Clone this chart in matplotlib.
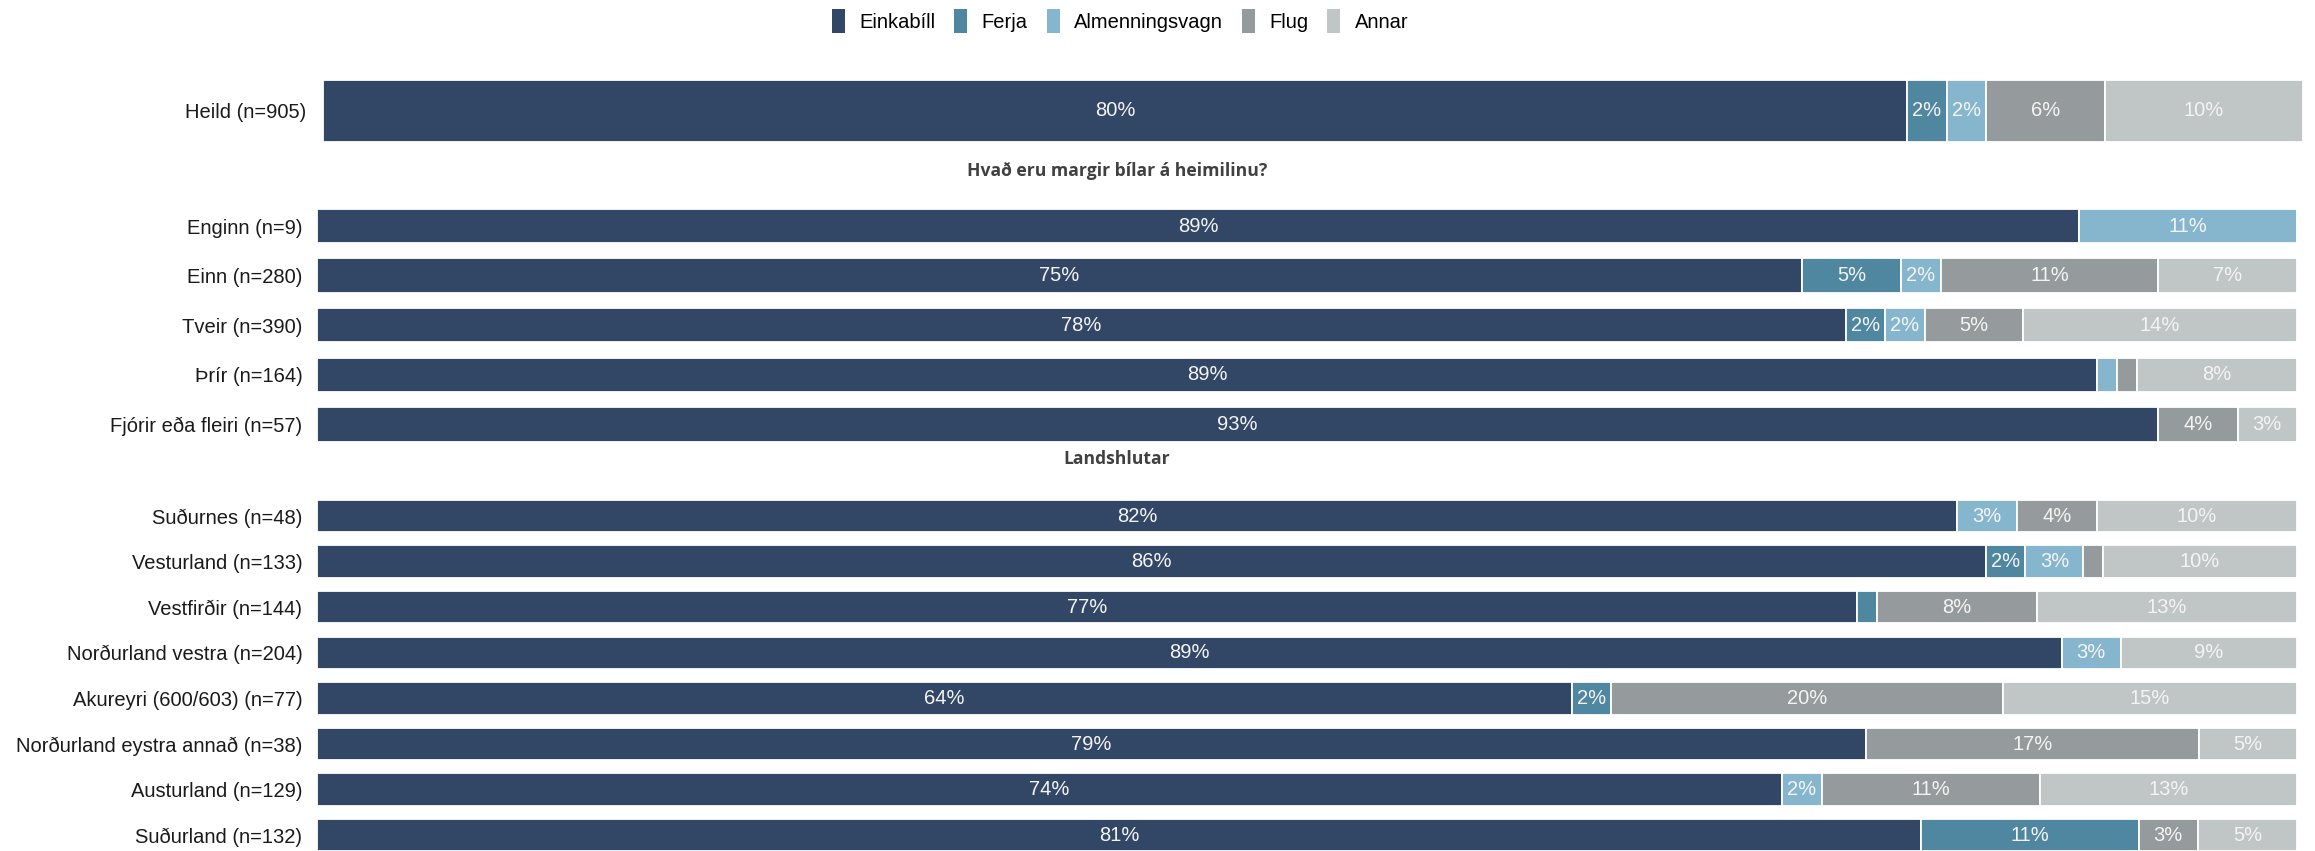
import matplotlib.pyplot as plt
from matplotlib.patches import Patch

W, H = 2315, 851

series = ['Einkabíll', 'Ferja', 'Almenningsvagn', 'Flug', 'Annar']
colors = ['#324665', '#4F87A0', '#86B6CD', '#959B9C', '#BFC6C5']

# heildin
total_labels = ['Heild (n=905)']
total_einkabill = [80]
total_ferja = [2]
total_almenn = [2]
total_flug = [6]
total_annar = [10]

# fjoldi bila a heimili
cars_title = 'Hvað eru margir bílar á heimilinu?'
cars_labels = ['Enginn (n=9)', 'Einn (n=280)', 'Tveir (n=390)', 'Þrír (n=164)',
               'Fjórir eða fleiri (n=57)']
cars_einkabill = [89, 75, 78, 89, 93]
cars_ferja = [0, 5, 2, 0, 0]
cars_almenn = [11, 2, 2, 1, 0]
cars_flug = [0, 11, 5, 1, 4]
cars_annar = [0, 7, 14, 8, 3]

# landshlutar
region_title = 'Landshlutar'
region_labels = ['Suðurnes (n=48)', 'Vesturland (n=133)', 'Vestfirðir (n=144)',
                 'Norðurland vestra (n=204)', 'Akureyri (600/603) (n=77)',
                 'Norðurland eystra annað (n=38)', 'Austurland (n=129)',
                 'Suðurland (n=132)']
region_einkabill = [82, 86, 77, 89, 64, 79, 74, 81]
region_ferja = [0, 2, 1, 0, 2, 0, 0, 11]
region_almenn = [3, 3, 0, 3, 0, 0, 2, 0]
region_flug = [4, 1, 8, 0, 20, 17, 11, 3]
region_annar = [10, 10, 13, 9, 15, 5, 13, 5]

plt.rcParams['font.family'] = ['Liberation Sans', 'DejaVu Sans']

fig = plt.figure(figsize=(W / 100, H / 100), dpi=100)


def px_axes(left, top, right, bottom):
    # axes placed in pixel coordinates measured from top-left
    return fig.add_axes([left / W, 1 - bottom / H, (right - left) / W, (bottom - top) / H])


def draw_group(ax, labels, cols, bar_h):
    n = len(labels)
    rows = list(zip(*cols))
    sums = [sum(r) for r in rows]
    left = [0.0] * n
    for k, col in enumerate(cols):
        share = [v / s * 100 for v, s in zip(col, sums)]
        bars = ax.barh(range(n), share, left=left, height=bar_h, color=colors[k],
                       edgecolor='white', linewidth=1.3)
        for b, v in zip(bars, col):
            if v >= 2:
                ax.text(b.get_x() + b.get_width() / 2, b.get_y() + b.get_height() / 2,
                        f'{v}%', ha='center', va='center', color='#F4F4F4', fontsize=14.5)
        left = [l + s for l, s in zip(left, share)]
    ax.set_xlim(0, 100)
    ax.set_ylim(n - 0.5, -0.5)
    ax.set_yticks(range(n))
    ax.set_yticklabels(labels, fontsize=14.5, color='#1A1A1A')
    ax.tick_params(axis='y', length=0, pad=10.5)
    ax.set_xticks([])
    for sp in ax.spines.values():
        sp.set_visible(False)
    ax.patch.set_alpha(0)


ax0 = px_axes(323, 80, 2303, 142)
draw_group(ax0, total_labels,
           [total_einkabill, total_ferja, total_almenn, total_flug, total_annar], 1.0)
ax0.tick_params(axis='y', pad=12)

step1 = 49.6
ax1 = px_axes(317, 226 - step1 / 2, 2297, 226 + 4.5 * step1)
draw_group(ax1, cars_labels,
           [cars_einkabill, cars_ferja, cars_almenn, cars_flug, cars_annar], 0.69)

step2 = 45.6
ax2 = px_axes(317, 516 - step2 / 2, 2297, 516 + 7.5 * step2)
draw_group(ax2, region_labels,
           [region_einkabill, region_ferja, region_almenn, region_flug, region_annar], 0.71)

for txt, y in [(cars_title, 171), (region_title, 459)]:
    fig.text(1117 / W, 1 - y / H, txt, ha='center', va='center', fontsize=12.6,
             fontweight='bold', family='Open Sans', color='#404040')

handles = [Patch(facecolor=c, edgecolor='none', label=s) for s, c in zip(series, colors)]
fig.legend(handles=handles, loc='center', bbox_to_anchor=(1120 / W, 1 - 21 / H), ncol=5,
           frameon=False, fontsize=14.5, handlelength=0.65, handleheight=1.5,
           handletextpad=0.7, columnspacing=0.95)

fig.savefig('out.png', dpi=100)
